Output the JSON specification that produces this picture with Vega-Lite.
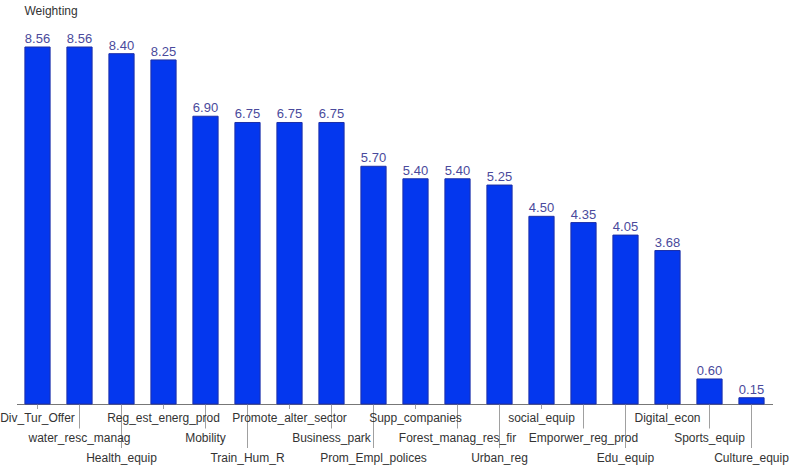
{
  "$schema": "https://vega.github.io/schema/vega-lite/v6.json",
  "width": 756,
  "height": 357,
  "autosize": {"type": "none"},
  "padding": {"left": 16.5, "top": 47, "right": 17.5, "bottom": 67},
  "background": "white",
  "title": {"text": "Weighting", "anchor": "start", "frame": "group", "offset": 15, "dx": 8, "font": "Liberation Sans", "fontSize": 12, "fontWeight": "normal", "color": "#333333"},
  "config": {"view": {"stroke": null}},
  "data": {"values": [
    {"name": "Div_Tur_Offer", "weight": 8.56, "level": 0},
    {"name": "water_resc_manag", "weight": 8.56, "level": 1},
    {"name": "Health_equip", "weight": 8.40, "level": 2},
    {"name": "Reg_est_energ_prod", "weight": 8.25, "level": 0},
    {"name": "Mobility", "weight": 6.90, "level": 1},
    {"name": "Train_Hum_R", "weight": 6.75, "level": 2},
    {"name": "Promote_alter_sector", "weight": 6.75, "level": 0},
    {"name": "Business_park", "weight": 6.75, "level": 1},
    {"name": "Prom_Empl_polices", "weight": 5.70, "level": 2},
    {"name": "Supp_companies", "weight": 5.40, "level": 0},
    {"name": "Forest_manag_res_fir", "weight": 5.40, "level": 1},
    {"name": "Urban_reg", "weight": 5.25, "level": 2},
    {"name": "social_equip", "weight": 4.50, "level": 0},
    {"name": "Emporwer_reg_prod", "weight": 4.35, "level": 1},
    {"name": "Edu_equip", "weight": 4.05, "level": 2},
    {"name": "Digital_econ", "weight": 3.68, "level": 0},
    {"name": "Sports_equip", "weight": 0.60, "level": 1},
    {"name": "Culture_equip", "weight": 0.15, "level": 2}
  ]},
  "encoding": {
    "x": {"field": "name", "type": "nominal", "sort": null,
      "scale": {"paddingInner": 0.4, "paddingOuter": 0.2},
      "axis": {"title": null, "labels": false, "ticks": false, "domainColor": "#777777", "domainWidth": 1.2, "grid": false}}
  },
  "layer": [
    {
      "mark": {"type": "rule", "color": "#a0a0a0", "strokeWidth": 1},
      "encoding": {
        "y": {"field": "level", "type": "quantitative", "axis": null, "scale": {"domain": [0, 2], "range": [362, 401]}},
        "y2": {"value": 357}
      }
    },
    {
      "mark": {"type": "bar", "color": "#0437ee", "stroke": "#1c2fa8", "strokeWidth": 1, "strokeJoin": "miter", "cornerRadius": 0},
      "encoding": {
        "y": {"field": "weight", "type": "quantitative", "axis": null, "scale": {"domain": [0, 8.56], "nice": false, "zero": true}}
      }
    },
    {
      "mark": {"type": "text", "baseline": "bottom", "dy": -1, "font": "Liberation Sans", "fontSize": 13, "color": "#4a4a9c"},
      "encoding": {
        "y": {"field": "weight", "type": "quantitative", "axis": null, "scale": {"domain": [0, 8.56], "nice": false, "zero": true}},
        "text": {"field": "weight", "type": "quantitative", "format": ".2f"}
      }
    },
    {
      "mark": {"type": "text", "baseline": "middle", "font": "Liberation Sans", "fontSize": 12, "color": "#333333"},
      "encoding": {
        "y": {"field": "level", "type": "quantitative", "axis": null, "scale": {"domain": [0, 2], "range": [371, 411]}},
        "text": {"field": "name", "type": "nominal"}
      }
    }
  ],
  "resolve": {"scale": {"y": "independent"}}
}
